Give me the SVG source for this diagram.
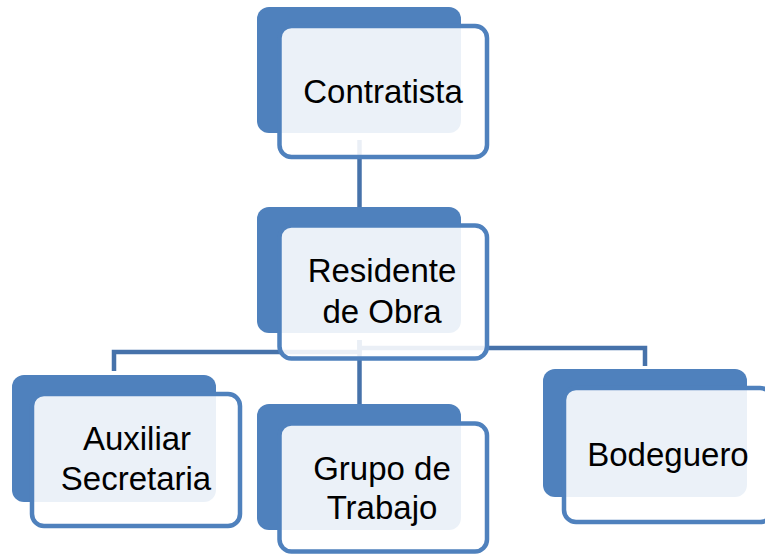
<svg xmlns="http://www.w3.org/2000/svg" width="765" height="555" viewBox="0 0 765 555">
<style>
.back{fill:#4F81BD}
.front{fill:#FFFFFF;fill-opacity:0.89;stroke:#4F81BD;stroke-width:4.5}
.lbl{font-family:"Liberation Sans",Arial,sans-serif;font-size:33px;fill:#000000;text-anchor:middle}
.conn{fill:none;stroke:#4672AA;stroke-width:4.5}
</style>
<rect width="765" height="555" fill="#FFFFFF"/>
<g id="connectors">
<path class="conn" d="M359.5,140 V212"/>
<path class="conn" d="M359.5,340 V352 H114 V371"/>
<path class="conn" d="M359.5,340 V348 H645 V366"/>
<path class="conn" d="M359.5,340 V404"/>
</g>
<g id="contratista">
<rect class="back" x="257" y="7" width="204" height="126" rx="12"/>
<rect class="front" x="279.5" y="26" width="207.5" height="131" rx="12"/>
<text class="lbl" x="383" y="103">Contratista</text>
</g>
<g id="residente">
<rect class="back" x="257" y="207" width="204" height="126" rx="12"/>
<rect class="front" x="279.5" y="225.5" width="207.5" height="133" rx="12"/>
<text class="lbl" x="382" y="282">Residente</text>
<text class="lbl" x="382" y="323">de Obra</text>
</g>
<g id="auxiliar">
<rect class="back" x="12" y="375" width="204" height="127" rx="12"/>
<rect class="front" x="32" y="394" width="208" height="132" rx="12"/>
<text class="lbl" x="137" y="450">Auxiliar</text>
<text class="lbl" x="136" y="490">Secretaria</text>
</g>
<g id="grupo">
<rect class="back" x="257" y="404" width="204" height="126" rx="12"/>
<rect class="front" x="279.5" y="423.5" width="207.5" height="128" rx="12"/>
<text class="lbl" x="382" y="480">Grupo de</text>
<text class="lbl" x="382" y="519">Trabajo</text>
</g>
<g id="bodeguero">
<rect class="back" x="543" y="369" width="204" height="128" rx="12"/>
<rect class="front" x="564" y="388" width="208" height="134" rx="12"/>
<text class="lbl" x="668" y="466">Bodeguero</text>
</g>
</svg>
